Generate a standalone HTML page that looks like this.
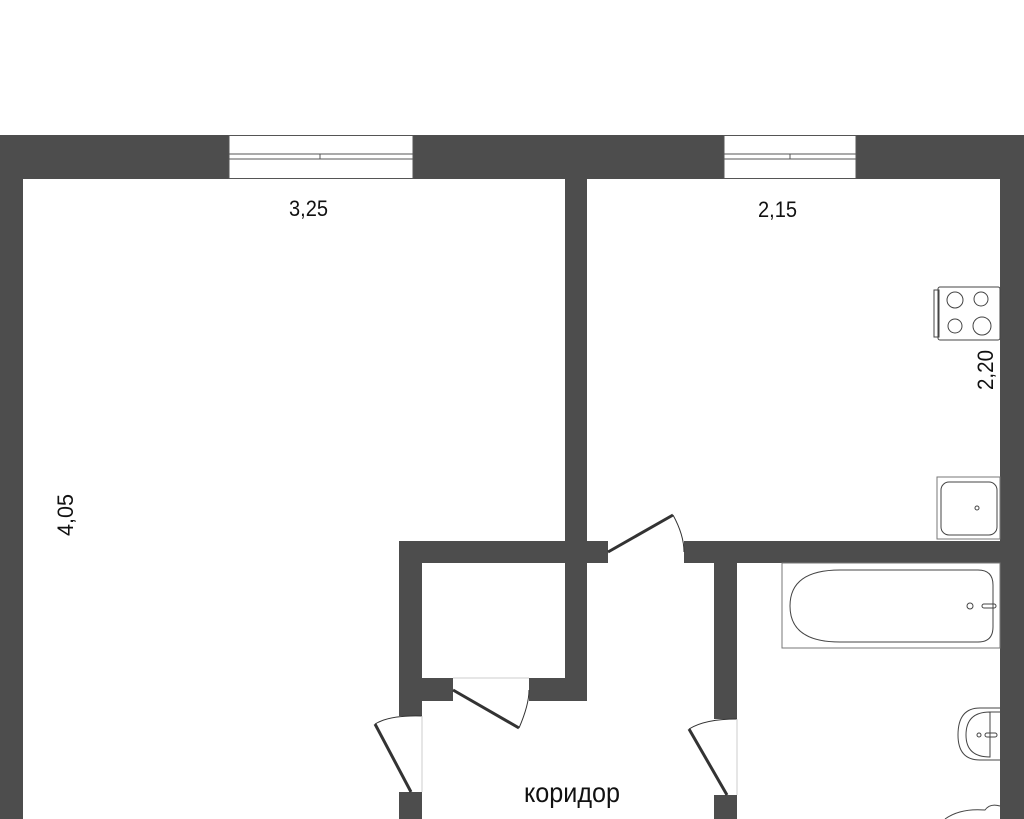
<!DOCTYPE html>
<html><head><meta charset="utf-8"><style>html,body{margin:0;padding:0;background:#fff;}svg{display:block}</style></head>
<body>
<svg width="1024" height="819" viewBox="0 0 1024 819" xmlns="http://www.w3.org/2000/svg">
<g fill="#4d4d4d">
<rect x="0" y="135" width="1024" height="44"/>
<rect x="0" y="135" width="23" height="684"/>
<rect x="1000" y="135" width="24" height="684"/>
<rect x="565" y="179" width="22" height="522"/>
<rect x="399" y="541" width="209" height="22"/>
<rect x="684" y="541" width="316" height="22"/>
<rect x="399" y="541" width="23" height="175"/>
<rect x="422" y="678" width="31" height="23"/>
<rect x="529" y="678" width="58" height="23"/>
<rect x="714" y="563" width="23" height="156"/>
<rect x="399" y="792" width="23" height="27"/>
<rect x="714" y="795" width="23" height="24"/>
</g>
<g fill="#fff" stroke="#555" stroke-width="1">
<rect x="229" y="135.5" width="184" height="43"/>
<rect x="229" y="154" width="184" height="5"/>
<line x1="320" y1="154" x2="320" y2="159"/>
<rect x="724" y="135.5" width="132" height="43"/>
<rect x="724" y="154" width="132" height="5"/>
<line x1="790" y1="154" x2="790" y2="159"/>
</g>
<g fill="none" stroke="#333">
<line x1="608" y1="552" x2="673" y2="515" stroke-width="3"/>
<path d="M673 515 Q684 535 684 552" stroke-width="1"/>
<line x1="453" y1="690" x2="519" y2="728" stroke-width="3"/>
<path d="M519 728 Q529 705 529 690" stroke-width="1"/>
<line x1="411" y1="792" x2="375" y2="724" stroke-width="3"/>
<path d="M375 724 Q390 715 422 716" stroke-width="1"/>
<line x1="727" y1="795" x2="689" y2="729" stroke-width="3"/>
<path d="M689 729 Q705 719 737 719" stroke-width="1"/>
</g>
<g fill="none" stroke="#ccc" stroke-width="1">
<line x1="422" y1="716" x2="422" y2="792"/>
<line x1="737" y1="719" x2="737" y2="795"/>
<line x1="453" y1="678" x2="529" y2="678"/>
</g>
<g fill="none" stroke="#444" stroke-width="1">
<rect x="938" y="287" width="62" height="53" rx="2"/>
<rect x="934" y="290" width="5" height="47"/>
<circle cx="955" cy="300" r="8"/><circle cx="981" cy="299" r="7"/>
<circle cx="955" cy="326" r="7"/><circle cx="982" cy="326" r="9"/>
<rect x="937" y="477" width="63" height="62" fill="#fff" stroke="#777"/>
<rect x="941" y="482" width="56" height="53" rx="8"/>
<circle cx="977" cy="508" r="2"/>
<rect x="782" y="563" width="218" height="85" stroke="#777"/>
<path d="M840 570 H978 Q993 570 993 585 V627 Q993 642 978 642 H840 Q790 642 790 606 Q790 570 840 570 Z"/>
<circle cx="970" cy="606" r="3"/>
<rect x="982" y="604" width="14" height="4" rx="2"/>
<path d="M1000 708 H980 Q958 708 958 735 Q958 760 980 760 H1000"/>
<path d="M1000 712 H990 Q966 712 966 735 Q966 757 990 757 H990 Q990 735 990 712"/>
<circle cx="979" cy="735" r="2"/>
<rect x="985" y="733" width="12" height="4" rx="2"/>
<path d="M945 819 Q960 808 985 810 Q990 803 1000 806"/>
</g>
<g font-family="'Liberation Sans Narrow','Liberation Sans',sans-serif" fill="#111" font-size="22">
<text x="289" y="216" textLength="39" lengthAdjust="spacingAndGlyphs">3,25</text>
<text x="758" y="217" textLength="39" lengthAdjust="spacingAndGlyphs">2,15</text>
<text transform="translate(993 390) rotate(-90)" textLength="40" lengthAdjust="spacingAndGlyphs">2,20</text>
<text transform="translate(73 536) rotate(-90)" textLength="42" lengthAdjust="spacingAndGlyphs">4,05</text>
<text x="524" y="802" font-size="28" textLength="96" lengthAdjust="spacingAndGlyphs">коридор</text>
</g>
</svg>
</body></html>
